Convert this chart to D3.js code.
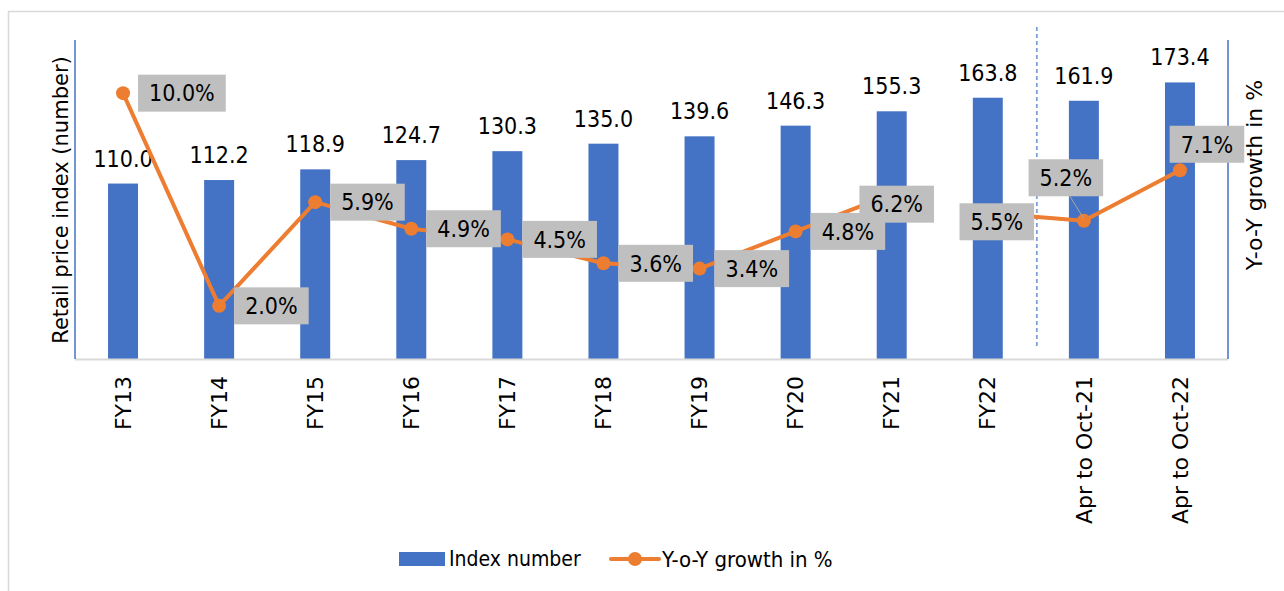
<!DOCTYPE html>
<html>
<head>
<meta charset="utf-8">
<script src="https://cdn.jsdelivr.net/npm/d3@7/dist/d3.min.js"></script>
<style>
  html, body { margin: 0; padding: 0; background: #fff; }
  svg text { font-family: "DejaVu Sans", sans-serif; fill: #000; }
  svg text.num { font-family: "DejaVu Sans Condensed", "DejaVu Sans", sans-serif; font-stretch: condensed; }
</style>
</head>
<body>
<svg id="chart" width="1284" height="591"></svg>
<script>
// categories and series
var categories = ['FY13', 'FY14', 'FY15', 'FY16', 'FY17', 'FY18', 'FY19', 'FY20', 'FY21', 'FY22', 'Apr to Oct-21', 'Apr to Oct-22'];
var indexNumber = [110.0, 112.2, 118.9, 124.7, 130.3, 135.0, 139.6, 146.3, 155.3, 163.8, 161.9, 173.4];
var yoyGrowth = [10.0, 2.0, 5.9, 4.9, 4.5, 3.6, 3.4, 4.8, 6.2, 5.5, 5.2, 7.1];
var seriesNames = ['Index number', 'Y-o-Y growth in %'];

// where each growth label box sits (layout only, relative to its point)
var growthLabelPlace = ['right', 'right', 'right', 'right', 'right', 'right', 'right', 'right',
  [5, 10], [9, 9], [-18, -43], [27, -26]];
// the line is not joined between FY21 and FY22 in the source
var lineBreakAfter = 8;

(function() {
  var blue = '#4472c4', orange = '#ed7d31', boxGrey = '#bfbfbf';

  var svg = d3.select('#chart');
  var plotLeft = 75, plotRight = 1228, plotTop = 40, plotBottom = 359;

  // outer frame
  svg.append('rect')
      .attr('x', 8.5).attr('y', 11.5).attr('width', 1300).attr('height', 600)
      .attr('fill', 'none').attr('stroke', '#d9d9d9').attr('stroke-width', 1.5);

  var x = d3.scaleBand().domain(categories).range([plotLeft, plotRight]).padding(0);
  var yL = d3.scaleLinear().domain([0, 200]).range([plotBottom, plotTop]);
  var yR = d3.scaleLinear().domain([0, 12]).range([plotBottom, plotTop]);
  var barW = x.bandwidth() * 0.312;
  var cx = function(c) { return x(c) + x.bandwidth() / 2; };

  // bars
  svg.selectAll('rect.bar')
      .data(indexNumber).enter()
    .append('rect')
      .attr('class', 'bar')
      .attr('x', function(d, i) { return cx(categories[i]) - barW / 2; })
      .attr('y', function(d) { return yL(d); })
      .attr('width', barW)
      .attr('height', function(d) { return yL(0) - yL(d); })
      .attr('fill', blue);

  // bar value labels
  svg.selectAll('text.barval')
      .data(indexNumber).enter()
    .append('text')
      .attr('class', 'barval num')
      .attr('x', function(d, i) { return cx(categories[i]); })
      .attr('y', function(d) { return yL(d) - 17; })
      .attr('text-anchor', 'middle')
      .attr('font-size', 23)
      .text(function(d) { return d.toFixed(1); });

  // separator between full years and part years
  var sepX = x(categories[10]) + 1;
  svg.append('line')
      .attr('x1', sepX).attr('x2', sepX).attr('y1', 27).attr('y2', 349)
      .attr('stroke', '#7f9fd8').attr('stroke-width', 1.8).attr('stroke-dasharray', '4,3');

  // axes lines
  svg.append('line').attr('x1', plotLeft).attr('x2', plotRight).attr('y1', plotBottom + 0.5).attr('y2', plotBottom + 0.5)
      .attr('stroke', '#d9d9d9').attr('stroke-width', 2);
  svg.append('line').attr('x1', plotLeft).attr('x2', plotLeft).attr('y1', plotTop).attr('y2', plotBottom)
      .attr('stroke', blue).attr('stroke-width', 1.5);
  svg.append('line').attr('x1', plotRight).attr('x2', plotRight).attr('y1', plotTop).attr('y2', plotBottom)
      .attr('stroke', blue).attr('stroke-width', 1.5);

  // category tick labels, rotated
  var xAxis = d3.axisBottom(x).tickSize(0).tickPadding(0);
  var gx = svg.append('g').attr('transform', 'translate(0,' + plotBottom + ')').call(xAxis);
  gx.select('.domain').remove();
  gx.selectAll('text')
      .attr('transform', 'rotate(-90)')
      .attr('x', -17).attr('y', 0).attr('dy', '0.35em')
      .attr('text-anchor', 'end')
      .attr('font-size', 22)
      .attr('fill', '#000')
      .style('font-family', '"DejaVu Sans", sans-serif');

  // growth line, in two runs
  var line = d3.line()
      .x(function(d) { return cx(categories[d]); })
      .y(function(d) { return yR(yoyGrowth[d]); });
  var runs = [d3.range(0, lineBreakAfter + 1), d3.range(lineBreakAfter + 1, yoyGrowth.length)];
  svg.selectAll('path.growth')
      .data(runs).enter()
    .append('path')
      .attr('class', 'growth')
      .attr('d', line)
      .attr('fill', 'none').attr('stroke', orange).attr('stroke-width', 4).attr('stroke-linejoin', 'round');
  svg.selectAll('circle.pt')
      .data(yoyGrowth).enter()
    .append('circle')
      .attr('class', 'pt')
      .attr('cx', function(d, i) { return cx(categories[i]); })
      .attr('cy', function(d) { return yR(d); })
      .attr('r', 7)
      .attr('fill', orange);

  // growth labels in grey boxes (drawn last-first so earlier ones sit on top)
  var boxH = 37;
  var order = d3.range(yoyGrowth.length).reverse();
  order.forEach(function(i) {
    var d = yoyGrowth[i];
    var px = cx(categories[i]), py = yR(d);
    var g = svg.append('g');
    var t = g.append('text')
        .attr('class', 'num')
        .attr('text-anchor', 'middle').attr('dy', '0.36em')
        .attr('font-size', 23)
        .text(d.toFixed(1) + '%');
    var w = t.node().getComputedTextLength() + 22;
    var place = growthLabelPlace[i];
    var bx, by;
    if (place === 'right') { bx = px + 15 + w / 2; by = py; }
    else { bx = px + place[0]; by = py + place[1]; }
    if (place !== 'right' && place[1] < -35) {
      g.insert('line', 'text')
          .attr('x1', bx + 4).attr('y1', by + boxH / 2)
          .attr('x2', px).attr('y2', py - 2)
          .attr('stroke', '#a6a6a6').attr('stroke-width', 1);
    }
    g.insert('rect', 'text')
        .attr('x', bx - w / 2).attr('y', by - boxH / 2)
        .attr('width', w).attr('height', boxH)
        .attr('fill', boxGrey);
    t.attr('x', bx).attr('y', by);
  });

  // axis titles
  svg.append('text')
      .attr('transform', 'translate(61,200) rotate(-90)')
      .attr('text-anchor', 'middle').attr('dy', '0.35em')
      .attr('font-size', 21)
      .text('Retail price index (number)');
  svg.append('text')
      .attr('transform', 'translate(1254,175) rotate(-90)')
      .attr('text-anchor', 'middle').attr('dy', '0.35em')
      .attr('font-size', 22)
      .text('Y-o-Y growth in %');

  // legend
  var lg = svg.append('g').attr('transform', 'translate(0,559)');
  lg.append('rect').attr('x', 399).attr('y', -7).attr('width', 46).attr('height', 14).attr('fill', blue);
  lg.append('text').attr('class', 'num').attr('x', 449).attr('dy', '0.35em').attr('font-size', 21).text(seriesNames[0]);
  lg.append('line').attr('x1', 611).attr('x2', 659).attr('y1', 0).attr('y2', 0)
      .attr('stroke', orange).attr('stroke-width', 4).attr('stroke-linecap', 'round');
  lg.append('circle').attr('cx', 635).attr('cy', 0).attr('r', 7).attr('fill', orange);
  lg.append('text').attr('class', 'num').attr('x', 662).attr('dy', '0.35em').attr('font-size', 22).text(seriesNames[1]);
})();
</script>
</body>
</html>
